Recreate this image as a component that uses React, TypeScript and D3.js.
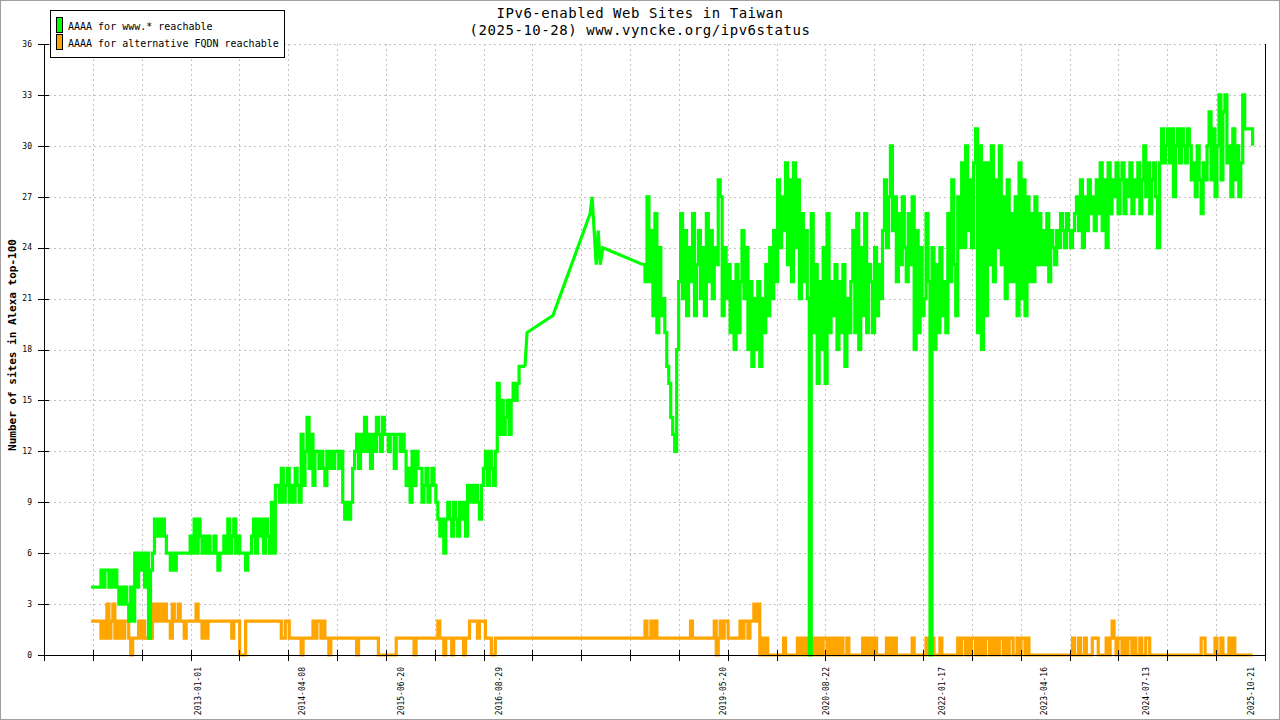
import React from "react";
import * as d3 from "d3";

// ---- text ----
const TITLE = ["IPv6-enabled Web Sites in Taiwan", "(2025-10-28) www.vyncke.org/ipv6status"];
const Y_TITLE = "Number of sites in Alexa top-100";
const SERIES = ["AAAA for www.* reachable", "AAAA for alternative FQDN reachable"];
const COLORS = ["#00ff00", "#ffa500"];

// ---- axes ----
const X_DOMAIN = ["2011-02-17", "2025-12-22"];
const X_LABELS = [
    "2013-01-01", "2014-04-08", "2015-06-20", "2016-08-29", "2019-05-20",
    "2020-08-22", "2022-01-17", "2023-04-16", "2024-07-13", "2025-10-21"
];
const X_TICK_COUNT = 25;
const Y_TICKS = [0, 3, 6, 9, 12, 15, 18, 21, 24, 27, 30, 33, 36];

// ---- data: samples spread evenly between the range dates ----
const EARLY_RANGE = ["2011-09-14", "2016-12-23"];
const LATE_RANGE = ["2018-05-31", "2025-10-28"];

const greenEarly = [
    4, 4, 4, 4, 4,
    5, 4, 5, 5, 4, 5, 4, 5, 4,
    3, 4, 3, 4, 3,
    2, 4, 2,
    6, 4, 6, 5, 6, 4, 6, 1, 5, 6,
    8, 7, 8, 7, 8, 7, 6,
    6, 5, 6, 5,
    6, 6, 6, 6, 6, 6, 6,
    7, 6, 8, 6, 8, 7, 6,
    7, 6, 7, 6, 6, 7, 6, 5, 6, 6,
    7, 6, 8, 6, 7, 8, 6, 7, 6,
    6, 6, 5, 6, 6,
    7, 8, 6, 8, 7, 8, 6, 8, 7, 6,
    9, 6, 10,
    10, 9, 11, 9, 10, 11, 9, 10, 9, 11, 10, 9,
    13, 10, 12, 14, 11, 13, 10, 12,
    12, 11, 12, 11, 10, 12, 11, 12, 11, 12, 12, 11, 12,
    9, 8, 9, 8, 9,
    11, 12, 13, 11, 13, 12, 14, 12, 13, 11, 13, 12, 14, 13, 12,
    14, 13, 13, 12, 13, 13, 11, 13, 13, 12, 13,
    12, 10, 11, 9, 12, 10, 12, 11,
    11, 9, 10, 11, 9, 10, 11, 10, 9,
    8, 7, 8, 6, 8,
    9, 8, 7, 9, 8, 7, 9, 8, 9, 7,
    10, 9, 10, 9, 10, 9, 8, 10,
    11, 12, 10, 12, 11, 10, 12,
    16, 13, 15, 13, 14,
    15, 13, 15,
    16, 15, 16,
    17, 17, 17, 17
];

// sparse readings 2017-2018
const greenGap: [string, number][] = [
    ["2017-01-01", 19], ["2017-04-26", 20], ["2017-10-08", 26], ["2017-10-17", 27],
    ["2017-10-26", 25], ["2017-11-04", 23], ["2017-11-13", 25], ["2017-11-22", 23],
    ["2017-12-04", 24]
];

const greenLate = [
    23, 22, 27, 22, 25, 20, 26, 19, 24, 20,
    21, 19, 17, 16, 14, 13, 12,
    18, 22,
    26, 21, 25, 20, 24, 22, 26, 20, 23, 25, 21, 24, 20, 26, 22, 25, 21, 24, 23,
    28, 27,
    20, 24, 21, 23,
    19, 22, 18, 23, 19, 22,
    25, 21, 24,
    18, 22, 17, 21, 18, 22, 17, 21,
    19, 23, 20, 24, 21, 25, 22,
    28, 24, 27, 25,
    29, 23, 28, 22, 29, 24, 28,
    21, 26, 22, 25, 21,
    0,
    26, 19, 23, 16, 22, 18, 24, 16, 26, 19, 22,
    20, 23, 18, 22, 19, 23, 17, 21, 19, 22,
    25, 19, 26, 18, 24, 20, 26, 19, 23,
    22, 19, 24, 20, 23, 21,
    25, 28, 24, 27, 30, 25,
    27, 22, 26, 23, 27, 24, 22, 26, 23, 27,
    18, 25, 19, 24, 20,
    21, 26, 22, 0,
    24, 18, 23, 19, 24, 20, 22, 19,
    26, 22, 28, 23, 20, 27, 24,
    29, 24, 30, 25, 28, 24, 29,
    31, 19, 30, 18, 29, 20,
    29, 23, 30, 22, 28, 24, 30, 23,
    27, 21, 28, 22, 26, 22,
    27, 20, 29, 21, 28, 20, 27, 22,
    26, 22, 27, 23, 26, 23,
    25, 23, 26, 22, 25, 24, 23,
    25, 24, 26, 25, 24, 26, 25, 24, 25, 26,
    27, 25, 28, 24, 27, 25, 28, 26, 27, 25,
    28, 26, 29, 25, 28, 24, 29, 26, 28,
    27, 29, 26, 28, 29, 26, 28, 27, 29, 26, 28,
    27, 29, 26, 28, 30, 27, 29, 26, 28, 29, 27,
    24, 29,
    31, 29, 30, 31, 29, 31, 27, 30, 31, 29, 31, 30, 29, 31,
    30, 28, 29, 27, 30, 28, 26, 29, 28, 30,
    32, 28, 31, 27, 30,
    33, 28, 32, 33, 29,
    30, 27, 31, 28, 30, 27, 29,
    33,
    31, 31, 31, 31,
    30
];

const orangeEarly = [
    2, 2, 2, 2, 2,
    1, 2, 1, 3, 1, 2, 3,
    1, 2, 1, 2, 1, 2,
    2, 1, 0, 1,
    1, 1, 2, 1, 2, 1, 1, 2, 1,
    3, 2, 3, 2, 3, 2, 3, 2,
    2, 1, 3, 2, 2, 3, 2,
    2, 1, 2, 2, 2, 2, 2, 3,
    2, 2, 1, 2, 1, 2, 2, 2, 2, 2, 2, 2, 2, 2, 2, 2, 2, 1, 2, 2, 2,
    0, 0, 0,
    2, 2, 2, 2, 2, 2, 2, 2, 2, 2, 2, 2, 2, 2, 2, 2, 2, 2,
    1, 1, 2, 2,
    1, 1, 1, 1, 1, 1, 0, 1, 1, 1, 1, 1,
    2, 1, 2, 2, 1, 2, 1, 1,
    0, 1,
    1, 1, 1, 1, 1, 1, 1, 1, 1, 1, 1, 1, 0, 1, 1, 1, 1, 1, 1, 1, 1, 1, 1,
    0, 0, 0, 0, 0, 0, 0, 0, 0,
    1, 1, 1, 1, 1, 1, 1, 1, 1, 0, 1, 1, 1, 1, 1, 1, 1, 1, 1, 1, 1,
    2,
    1, 1, 0, 1, 1, 1, 0, 1, 1, 1, 1, 1, 0, 1, 1,
    2, 2, 2, 2, 1, 2, 2, 2, 1,
    1, 1,
    0, 0,
    1, 1, 1, 1, 1, 1, 1, 1, 1, 1, 1, 1, 1, 1, 1, 1
];

const orangeLate = [
    1, 2, 1, 1, 2, 1, 2,
    1, 1, 1, 1, 1, 1, 1, 1, 1, 1, 1, 1, 1, 1, 1, 1, 1,
    2,
    1, 1, 1, 1, 1, 1, 1, 1, 1, 1, 1,
    2, 0, 1,
    2, 1, 2, 2, 1,
    1, 1, 1, 1, 1,
    2, 1, 2, 2, 1, 2, 2,
    3, 2, 3,
    0, 1, 0, 1, 0,
    0, 0, 0, 0, 0, 0, 0, 1, 0, 0, 0, 0, 0, 0, 1,
    0, 1, 0, 1, 0, 0, 1, 0, 1, 0, 1, 0, 1, 1, 0, 1, 0, 1, 0, 1, 0, 1, 0, 0, 1,
    0, 0, 0, 0, 0, 0, 0, 1, 0,
    1, 0, 1, 0, 1,
    0, 0, 0, 0, 0,
    1, 0, 1, 0, 1,
    0, 0, 0, 0, 0, 0, 0, 0,
    1, 0,
    0, 0, 0, 0, 0,
    1, 0, 1, 1,
    0, 0, 0,
    1,
    0, 0, 0, 0, 0, 0, 0, 0,
    1, 0, 1, 1, 0, 1, 0, 1, 1, 0, 1, 0, 1, 0, 1, 1, 0, 1, 0, 1, 0, 1, 1, 0, 1, 0, 1, 1,
    0, 0,
    1, 0, 1, 1, 0, 1,
    0, 0, 0, 0, 0, 0, 0, 0, 0, 0, 0, 0, 0, 0, 0, 0, 0, 0, 0, 0, 0, 0,
    1, 0, 0, 1, 0, 0, 1, 0,
    0, 0,
    1, 1, 1,
    0, 0, 0, 0,
    1, 0, 1, 2, 1, 0, 1, 1, 0, 1, 0, 1, 1, 0,
    1, 0, 0, 1, 0, 0, 1, 1, 0, 0,
    0, 0, 0, 0, 0, 0, 0, 0, 0, 0, 0, 0, 0, 0, 0, 0, 0, 0, 0, 0, 0, 0, 0, 0,
    1, 1,
    0, 0, 0, 0, 0,
    1, 0,
    0,
    1, 0,
    0, 0,
    1, 0, 1,
    0, 0, 0, 0, 0, 0, 0, 0, 0, 0
];

type Pt = { date: Date; value: number };
const parse = d3.utcParse("%Y-%m-%d");

const spread = (range: string[], values: number[]): Pt[] => {
    const t0 = +parse(range[0])!;
    const t1 = +parse(range[1])!;
    return values.map((v, i) => ({
        date: new Date(t0 + ((t1 - t0) * i) / (values.length - 1)),
        value: v
    }));
};

const W = 1280;
const H = 720;
const LEFT = 44;
const RIGHT = 1265;
const TOP = 44;
const BOTTOM = 655;
const FONT = "'DejaVu Sans Mono', 'Liberation Mono', monospace";

const App: React.FC = () => {
    const x = d3.scaleUtc()
        .domain(X_DOMAIN.map(d => parse(d)!))
        .range([LEFT, RIGHT]);
    const y = d3.scaleLinear().domain([0, 36]).range([BOTTOM, TOP]);

    const [d0, d1] = x.domain();
    const xTicks = d3.range(X_TICK_COUNT + 1).map(
        k => new Date(+d0 + ((+d1 - +d0) * k) / X_TICK_COUNT)
    );

    const stepLine = d3.line<Pt>()
        .x(d => x(d.date))
        .y(d => y(d.value))
        .curve(d3.curveStepAfter);
    const straight = d3.line<Pt>()
        .x(d => x(d.date))
        .y(d => y(d.value));

    const gE = spread(EARLY_RANGE, greenEarly);
    const gL = spread(LATE_RANGE, greenLate);
    const gGap: Pt[] = [
        gE[gE.length - 1],
        ...greenGap.map(([d, v]) => ({ date: parse(d)!, value: v })),
        gL[0]
    ];
    const oE = spread(EARLY_RANGE, orangeEarly);
    const oL = spread(LATE_RANGE, orangeLate);
    const oGap: Pt[] = [oE[oE.length - 1], oL[0]];

    const seriesPaths = (early: Pt[], gap: Pt[], late: Pt[], color: string) => (
        <g fill="none" stroke={color} strokeWidth={3.2} strokeLinejoin="miter">
            <path d={stepLine(early) ?? ""} />
            <path d={straight(gap) ?? ""} />
            <path d={stepLine(late) ?? ""} />
        </g>
    );

    return (
        <svg
            width={W}
            height={H}
            style={{ position: "absolute", left: 0, top: 0, background: "#fff" }}
            fontFamily={FONT}
        >
            <rect x={0.5} y={0.5} width={W - 1} height={H - 1} fill="#fff" stroke="#a0a0a0" />

            {/* grid */}
            <g stroke="#c4c4c4" strokeWidth={1} strokeDasharray="2,3" shapeRendering="crispEdges">
                {Y_TICKS.filter(t => t > 0).map(t => (
                    <line key={"gy" + t} x1={LEFT} x2={RIGHT} y1={Math.round(y(t)) + 0.5} y2={Math.round(y(t)) + 0.5} />
                ))}
                {xTicks.slice(1, -1).map((t, i) => (
                    <line key={"gx" + i} x1={Math.round(x(t)) + 0.5} x2={Math.round(x(t)) + 0.5} y1={TOP} y2={BOTTOM} />
                ))}
            </g>

            {/* series */}
            {seriesPaths(oE, oGap, oL, COLORS[1])}
            {seriesPaths(gE, gGap, gL, COLORS[0])}

            {/* axes */}
            <g stroke="#000" strokeWidth={1} shapeRendering="crispEdges">
                <line x1={LEFT + 0.5} x2={LEFT + 0.5} y1={TOP} y2={BOTTOM} />
                <line x1={RIGHT + 0.5} x2={RIGHT + 0.5} y1={TOP} y2={BOTTOM} />
                <line x1={LEFT} x2={RIGHT + 1} y1={BOTTOM + 0.5} y2={BOTTOM + 0.5} />
                {Y_TICKS.map(t => (
                    <line key={"ty" + t} x1={38} x2={49} y1={Math.round(y(t)) + 0.5} y2={Math.round(y(t)) + 0.5} />
                ))}
                {xTicks.map((t, i) => (
                    <line key={"tx" + i} x1={Math.round(x(t)) + 0.5} x2={Math.round(x(t)) + 0.5} y1={650} y2={661} />
                ))}
            </g>

            {/* tick labels */}
            <g fontSize={8} fill="#000">
                {Y_TICKS.map(t => (
                    <text key={"ly" + t} x={32} y={y(t)} dy="0.35em" textAnchor="end">{t}</text>
                ))}
                {X_LABELS.map(l => (
                    <text
                        key={l}
                        transform={`translate(${x(parse(l)!)},667) rotate(-90)`}
                        dy="0.35em"
                        textAnchor="end"
                    >
                        {l}
                    </text>
                ))}
            </g>

            <text
                transform="translate(12,345) rotate(-90)"
                dy="0.35em"
                textAnchor="middle"
                fontSize={11}
                fontWeight="bold"
            >
                {Y_TITLE}
            </text>

            {/* title */}
            <g fontSize={14} letterSpacing={0.54} textAnchor="middle" fill="#000">
                <text x={640} y={18}>{TITLE[0]}</text>
                <text x={640} y={35}>{TITLE[1]}</text>
            </g>

            {/* legend */}
            <rect x={50.5} y={10.5} width={234} height={47} fill="#fff" stroke="#000" />
            {SERIES.map((s, i) => (
                <g key={s}>
                    <rect x={56.5} y={17.5 + i * 17} width={6} height={15} fill={COLORS[i]} stroke="#000" />
                    <text x={68} y={30 + i * 17} fontSize={10}>{s}</text>
                </g>
            ))}
        </svg>
    );
};

export default App;
